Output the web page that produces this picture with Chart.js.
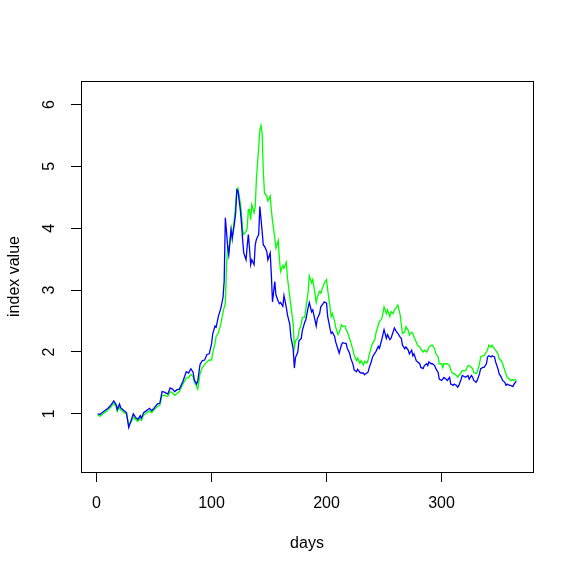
<!DOCTYPE html>
<html lang="en">
<head>
<meta charset="UTF-8">
<title>index value by days</title>
<style>
  body { margin: 0; background: #fff; }
  canvas { display: block; }
</style>
<script src="https://cdn.jsdelivr.net/npm/chart.js"></script>
</head>
<body>
<canvas id="chart" width="575" height="575"></canvas>
<script>
// values
const days = [
  1,3,5,7,10,12,15,17,18,20,
  21,24,26,28,30,32,34,36,38,39,
  41,44,46,48,50,53,55,57,59,62,
  64,66,68,70,72,75,78,80,82,84,
  85,87,88,90,92,94,96,98,100,101,
  103,104,106,108,110,111,112,113,114,115,
  117,118,120,121,122,123,125,126,127,128,
  130,131,132,133,134,135,137,138,139,141,
  142,143,144,145,146,148,149,151,152,153,
  155,156,158,159,160,162,163,165,166,168,
  169,171,172,173,175,176,178,179,181,182,
  184,185,187,188,190,191,192,194,195,197,
  198,200,201,203,204,205,207,208,210,211,
  213,214,216,217,218,220,221,223,224,226,
  227,229,230,232,233,235,236,237,239,240,
  242,243,245,246,248,249,250,252,253,255,
  256,258,259,261,262,
  264,265,266,268,269,271,272,274,275,276,
  278,279,281,282,284,285,287,288,289,291,
  292,294,295,297,298,300,301,302,304,305,
  307,308,310,311,313,314,315,317,318,320,
  321,323,324,326,327,328,330,331,333,334,
  336,337,339,340,341,343,344,346,347,349,
  350,352,353,355,356,357,359,360,362,363,
  365
];
const blueSeries = [
  1.00,0.99,1.02,1.05,1.09,1.13,1.21,1.15,1.07,1.16,
  1.10,1.05,1.02,0.78,0.89,1.00,0.94,0.91,0.97,0.93,
  1.02,1.06,1.09,1.05,1.09,1.16,1.17,1.36,1.35,1.32,
  1.42,1.40,1.36,1.39,1.40,1.52,1.68,1.66,1.73,1.67,
  1.55,1.48,1.53,1.80,1.86,1.87,1.96,1.97,2.13,2.29,
  2.42,2.40,2.58,2.70,2.88,3.15,4.17,3.95,3.71,3.57,
  3.98,3.84,4.09,4.25,4.62,4.60,4.30,4.09,3.82,3.60,
  3.49,3.71,3.90,3.68,3.41,3.49,3.41,3.73,3.82,3.90,
  4.35,4.15,3.95,3.73,3.71,3.63,3.49,3.60,3.25,2.81,
  3.14,2.92,2.82,2.78,2.80,2.74,2.91,2.72,2.60,2.45,
  2.24,2.05,1.74,1.91,2.00,2.18,2.22,2.35,2.48,2.52,
  2.72,2.80,2.65,2.68,2.51,2.42,2.54,2.62,2.73,2.78,
  2.81,2.79,2.57,2.38,2.30,2.32,2.25,2.16,2.04,1.98,
  2.12,2.15,2.14,2.14,2.06,1.98,1.90,1.80,1.71,1.68,
  1.72,1.67,1.66,1.66,1.63,1.66,1.67,1.74,1.85,1.92,
  1.98,2.01,2.09,2.06,2.20,2.28,2.36,2.22,2.28,2.20,
  2.22,2.33,2.39,2.32,2.30,
  2.24,2.22,2.11,2.05,2.08,2.03,1.97,2.03,1.94,1.97,
  1.86,1.84,1.81,1.75,1.73,1.78,1.81,1.78,1.84,1.81,
  1.81,1.78,1.73,1.67,1.56,1.54,1.56,1.59,1.56,1.54,
  1.59,1.48,1.46,1.48,1.46,1.43,1.46,1.56,1.62,1.60,
  1.59,1.62,1.56,1.62,1.59,1.54,1.51,1.54,1.65,1.73,
  1.75,1.75,1.81,1.92,1.94,1.92,1.94,1.92,1.84,1.73,
  1.65,1.59,1.54,1.51,1.46,1.48,1.46,1.46,1.44,1.48,
  1.53
];
const greenSeries = [
  0.98,0.96,0.99,1.02,1.06,1.10,1.17,1.12,1.04,1.12,
  1.07,1.02,1.00,0.82,0.86,0.95,0.91,0.88,0.93,0.90,
  0.98,1.02,1.05,1.02,1.06,1.12,1.14,1.30,1.30,1.28,
  1.36,1.34,1.30,1.33,1.36,1.48,1.58,1.58,1.64,1.60,
  1.52,1.45,1.40,1.65,1.75,1.80,1.84,1.87,1.87,1.98,
  2.14,2.25,2.31,2.45,2.64,2.72,2.78,3.38,3.71,3.65,
  3.98,3.82,4.19,4.40,4.62,4.65,4.41,4.25,3.98,3.90,
  3.95,4.00,4.30,4.30,4.14,4.38,4.25,4.35,4.79,5.31,
  5.58,5.66,5.53,4.93,4.57,4.52,4.44,4.52,4.30,4.12,
  3.84,3.68,3.80,3.50,3.30,3.40,3.35,3.45,3.20,2.90,
  2.74,2.45,2.07,2.18,2.22,2.34,2.45,2.56,2.56,2.70,
  2.97,3.23,3.12,3.17,2.94,2.80,2.89,2.98,2.95,3.06,
  3.11,3.17,3.00,2.73,2.57,2.62,2.50,2.40,2.28,2.31,
  2.44,2.41,2.42,2.36,2.33,2.22,2.16,2.03,1.95,1.86,
  1.90,1.82,1.86,1.79,1.85,1.82,1.86,1.95,2.09,2.14,
  2.20,2.31,2.44,2.49,2.54,2.62,2.73,2.62,2.68,2.57,
  2.65,2.62,2.68,2.73,2.76,
  2.60,2.45,2.30,2.32,2.41,2.35,2.27,2.32,2.30,2.24,
  2.16,2.11,2.08,2.05,2.00,2.03,2.00,2.03,2.08,2.11,
  2.11,2.05,1.97,1.92,1.81,1.81,1.75,1.81,1.81,1.81,
  1.78,1.70,1.65,1.65,1.62,1.59,1.62,1.67,1.70,1.70,
  1.70,1.78,1.78,1.75,1.73,1.67,1.65,1.67,1.81,1.92,
  1.94,1.94,2.00,2.03,2.11,2.08,2.11,2.05,2.03,1.97,
  1.89,1.86,1.81,1.70,1.65,1.59,1.56,1.54,1.55,1.54,
  1.56
];
const xTicks = [0, 100, 200, 300];
const yTicks = [1, 2, 3, 4, 5, 6];

const FONT = { family: '"Liberation Sans", Arial, sans-serif', size: 16 };

// white page + R-style box round the plot, y tick labels turned like R draws them
const rPlot = {
  id: 'rPlot',
  beforeDraw(chart) {
    const ctx = chart.ctx;
    ctx.save();
    ctx.fillStyle = '#fff';
    ctx.fillRect(0, 0, chart.width, chart.height);
    ctx.restore();
  },
  afterDraw(chart) {
    const ctx = chart.ctx, a = chart.chartArea, y = chart.scales.y;
    ctx.save();
    ctx.strokeStyle = '#000';
    ctx.lineWidth = 1;
    ctx.strokeRect(Math.round(a.left) + 0.5, Math.round(a.top) + 0.5,
                   Math.round(a.right - a.left), Math.round(a.bottom - a.top));
    ctx.fillStyle = '#000';
    ctx.font = FONT.size + 'px ' + FONT.family;
    ctx.textAlign = 'center';
    ctx.textBaseline = 'middle';
    yTicks.forEach(v => {
      ctx.save();
      ctx.translate(a.left - 31, y.getPixelForValue(v));
      ctx.rotate(-Math.PI / 2);
      ctx.fillText(String(v), 0, 0);
      ctx.restore();
    });
    ctx.restore();
  }
};

new Chart(document.getElementById('chart'), {
  type: 'line',
  data: {
    datasets: [
      { data: days.map((d, i) => ({ x: d, y: blueSeries[i] })), borderColor: '#0000ff', borderWidth: 1.3, pointRadius: 0, tension: 0 },
      { data: days.map((d, i) => ({ x: d, y: greenSeries[i] })), borderColor: '#00ff00', borderWidth: 1.3, pointRadius: 0, tension: 0 }
    ]
  },
  options: {
    responsive: false,
    animation: false,
    events: [],
    layout: { padding: { left: 0, top: 81, right: 42, bottom: 0 } },
    plugins: { legend: { display: false }, tooltip: { enabled: false } },
    scales: {
      x: {
        type: 'linear', min: -13.5, max: 379.5,
        afterBuildTicks: s => { s.ticks = xTicks.map(v => ({ value: v })); },
        afterFit: s => { s.height = 103; },
        grid: { drawOnChartArea: false, tickLength: 10, color: '#000' },
        border: { display: false },
        ticks: { color: '#000', font: FONT, padding: 12, maxRotation: 0 },
        title: { display: true, text: 'days', color: '#000', font: FONT, padding: { top: 0, bottom: 22 } }
      },
      y: {
        type: 'linear', min: 0.06, max: 6.38,
        afterBuildTicks: s => { s.ticks = yTicks.map(v => ({ value: v })); },
        afterFit: s => { s.width = 81; },
        grid: { drawOnChartArea: false, tickLength: 10, color: '#000' },
        border: { display: false },
        ticks: { display: false },
        title: { display: true, text: 'index value', color: '#000', font: FONT, padding: { top: 5, bottom: 0 } }
      }
    }
  },
  plugins: [rPlot]
});
</script>
</body>
</html>
